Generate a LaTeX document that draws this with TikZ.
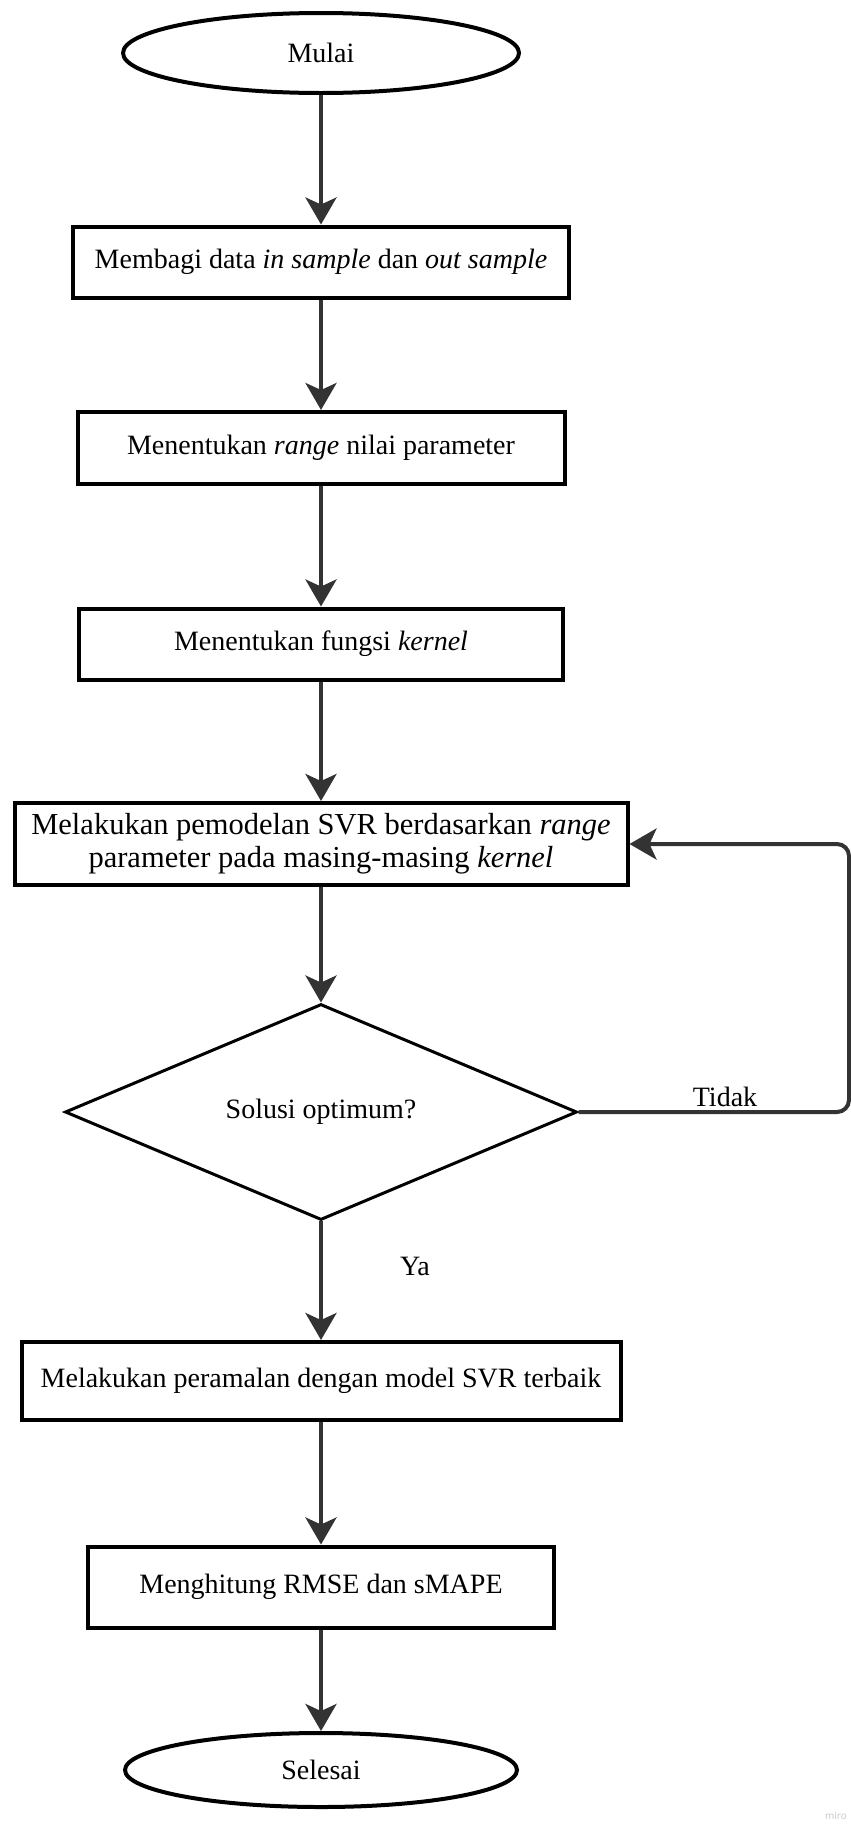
\documentclass[tikz,border=0pt]{standalone}
\usepackage{fontspec}
\setmainfont{Liberation Serif}
\newfontfamily\wmfont{Open Sans}
\usetikzlibrary{shapes.geometric,arrows.meta}

\definecolor{arrowgray}{HTML}{333333}

\tikzset{
  txt/.style={font=\fontsize{28}{33}\selectfont},
  proc/.style={txt, draw, line width=4pt, rectangle, inner sep=0pt, align=center},
  term/.style={txt, draw, line width=4pt, ellipse, inner sep=0pt},
  decide/.style={txt, draw, line width=3pt, diamond, inner sep=0pt},
  flow/.style={-{Stealth[length=27pt,width=31pt,inset=7pt]}, line width=4pt, draw=arrowgray},
}

\begin{document}
\begin{tikzpicture}[x=1pt,y=-1pt]
\useasboundingbox (0,0) rectangle (851,1829);

% Start / end
\node[term, minimum width=396pt, minimum height=80pt] (start) at (321,53) {Mulai};
\node[term, minimum width=392pt, minimum height=74pt] (stop) at (321,1770) {Selesai};

% Process steps
\node[proc, minimum width=496pt, minimum height=71pt] (split) at (321,262) {Membagi data \textit{in sample} dan \textit{out sample}};
\node[proc, minimum width=487pt, minimum height=72pt] (range) at (321,448) {Menentukan \textit{range} nilai parameter};
\node[proc, minimum width=484pt, minimum height=71pt] (kernel) at (321,644) {Menentukan fungsi \textit{kernel}};
\node[proc, minimum width=613pt, minimum height=82pt, font=\fontsize{30.5}{33}\selectfont] (model) at (321,844) {Melakukan pemodelan SVR berdasarkan \textit{range}\\parameter pada masing-masing \textit{kernel}};

% Decision
\node[decide, minimum width=512pt, minimum height=207pt] (opt) at (321,1112) {Solusi optimum?};

\node[proc, minimum width=599pt, minimum height=78pt] (fcast) at (321,1381) {Melakukan peramalan dengan model SVR terbaik};
\node[proc, minimum width=466pt, minimum height=81pt] (eval) at (321,1587) {Menghitung RMSE dan sMAPE};

% Labels
\node[txt] (tidak) at (725,1097) {Tidak};
\node[txt] (ya) at (415,1266) {Ya};

% Connectors
\draw[flow] (start) -- (split);
\draw[flow] (split) -- (range);
\draw[flow] (range) -- (kernel);
\draw[flow] (kernel) -- (model);
\draw[flow] (model) -- (opt);
\draw[flow] (opt) -- (fcast);
\draw[flow] (fcast) -- (eval);
\draw[flow] (eval) -- (stop);

% Loop back
\coordinate (loopc) at (849,844);
\draw[flow, rounded corners=12pt] (opt.east) -| (loopc) -- (model.east);

% Watermark
\node[font=\wmfont\fontsize{10}{12}\selectfont, text=gray!45] (miro) at (836,1816) {miro};
\end{tikzpicture}
\end{document}
